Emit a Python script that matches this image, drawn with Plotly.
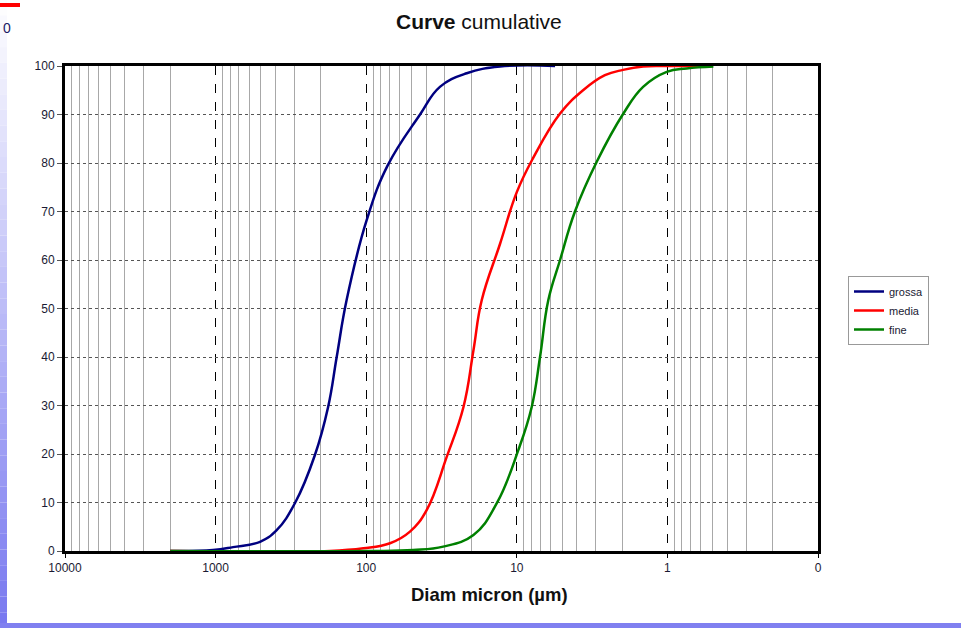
import plotly.graph_objects as go

# ---- data ----
grossa_x = [2000, 1040, 766, 507, 393, 297, 219, 179, 157, 135, 99.3, 72, 43.9, 32.4, 21.5, 12.9, 5.57]
grossa_y = [0, 0.2, 0.8, 1.9, 4.3, 9.9, 19.8, 29.7, 40, 51.7, 68.2, 79.5, 90, 95.7, 98.5, 99.9, 100]

media_x = [2000, 174, 104.5, 69.5, 51.2, 39.6, 29.2, 22.6, 19.4, 17.1, 12.9, 10.0, 7.8, 5.16, 3.63, 2.6, 1.97, 1.45, 1.0, 0.5]
media_y = [0, 0, 0.55, 1.6, 4.0, 8.5, 19.4, 29.7, 41.4, 51.7, 63.4, 74.0, 81.0, 90.2, 95.0, 98.1, 99.2, 99.9, 100, 100]

fine_x = [2000, 100, 48.7, 30.8, 19.4, 13.6, 9.77, 7.96, 7.01, 6.18, 5.16, 4.11, 2.94, 1.96, 1.45, 1.01, 0.745, 0.495]
fine_y = [0, 0, 0.2, 0.9, 3.3, 9.8, 20.8, 29.7, 40, 51.7, 60, 70, 80.3, 90.2, 95.7, 98.8, 99.5, 99.9]

series_names = ["grossa", "media", "fine"]
series_colors = ["#000080", "#ff0000", "#008000"]

x_tickvals = [10000, 1000, 100, 10, 1, 0.1]
x_ticktext = ["10000", "1000", "100", "10", "1", "0"]
y_tickvals = [0, 10, 20, 30, 40, 50, 60, 70, 80, 90, 100]
minor_vals = [m * 10 ** e for e in range(-1, 4) for m in range(2, 10)]

FONT = "Liberation Sans, Arial, sans-serif"
W, H = 961, 628
L, R, T, B = 65, 818, 66, 551


def px(x):
    return (x - L) / (R - L)


def py(y):
    return (B - y) / (B - T)


fig = go.Figure()
for name, xs, ys, col in zip(series_names, [grossa_x, media_x, fine_x],
                             [grossa_y, media_y, fine_y], series_colors):
    fig.add_trace(go.Scatter(x=xs, y=ys, mode="lines", name=name,
                             line=dict(color=col, width=2.5, shape="spline", smoothing=1.2)))

fig.update_layout(
    width=W, height=H,
    margin=dict(l=L, r=W - R, t=T, b=H - B, pad=0),
    paper_bgcolor="white", plot_bgcolor="white",
    font=dict(family=FONT, color="#1a1a33", size=12),
    showlegend=True,
    legend=dict(x=px(848), y=py(276), xanchor="left", yanchor="top",
                bordercolor="#999999", borderwidth=1, bgcolor="white",
                font=dict(size=11, color="#1a1a33"), tracegroupgap=0, itemwidth=30),
)

fig.update_xaxes(
    type="log", range=[4, -1],
    tickvals=x_tickvals, ticktext=x_ticktext,
    showgrid=True, gridcolor="black", griddash="dash", gridwidth=1,
    showline=True, linecolor="black", linewidth=3, mirror=True,
    ticks="outside", ticklen=4, tickcolor="black",
    zeroline=False,
    minor=dict(tickvals=minor_vals, showgrid=True, gridcolor="#a8a8a8", gridwidth=1,
               griddash="solid", ticks=""),
    tickfont=dict(size=12),
)
fig.update_yaxes(
    range=[0, 100], tickvals=y_tickvals,
    showgrid=True, gridcolor="#555555", griddash="dot", gridwidth=1,
    showline=True, linecolor="black", linewidth=3, mirror=True,
    ticks="outside", ticklen=5, tickcolor="#555555",
    zeroline=False,
    tickfont=dict(size=12),
)

# title and axis title
fig.add_annotation(text="<b>Curve</b> cumulative", xref="paper", yref="paper",
                   x=px(479), y=py(21), xanchor="center", yanchor="middle",
                   showarrow=False, font=dict(size=21, color="#111111", family=FONT))
fig.add_annotation(text="<b>Diam micron (µm)</b>", xref="paper", yref="paper",
                   x=px(489), y=py(594), xanchor="center", yanchor="middle",
                   showarrow=False, font=dict(size=18.5, color="#111111", family=FONT))

# slide decorations around the chart
shapes = []
n = 40
for i in range(n):
    y0 = i * H / n
    y1 = (i + 1) * H / n
    t = (i + 0.5) / n
    r = int(255 - (255 - 120) * t)
    g = int(255 - (255 - 120) * t)
    b = int(255 - (255 - 240) * t)
    shapes.append(dict(type="rect", xref="paper", yref="paper",
                       x0=px(0), x1=px(7), y0=py(y1), y1=py(y0),
                       fillcolor=f"rgb({r},{g},{b})", line=dict(width=0), layer="above"))
shapes.append(dict(type="rect", xref="paper", yref="paper",
                   x0=px(0), x1=px(W), y0=py(H), y1=py(623),
                   fillcolor="#8080f0", line=dict(width=0), layer="above"))
shapes.append(dict(type="rect", xref="paper", yref="paper",
                   x0=px(0), x1=px(20), y0=py(7), y1=py(3),
                   fillcolor="#ff0000", line=dict(width=0), layer="above"))
fig.update_layout(shapes=shapes)
fig.add_annotation(text="0", xref="paper", yref="paper", x=px(1), y=py(28),
                   xanchor="left", yanchor="middle", showarrow=False,
                   font=dict(size=14, color="#1a1a66", family=FONT))

fig.write_html("out.html")
